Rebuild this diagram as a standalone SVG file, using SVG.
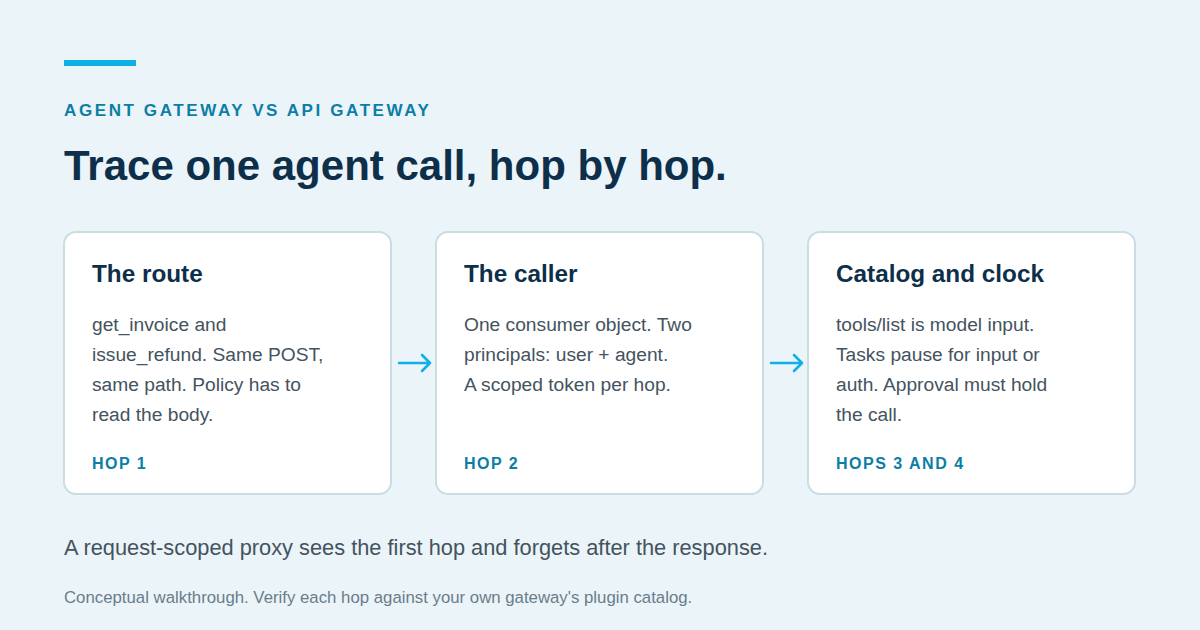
<svg xmlns="http://www.w3.org/2000/svg" width="1200" height="630" viewBox="0 0 1200 630">
<style>
text{font-family:"Liberation Sans",Arial,sans-serif}
.card{fill:#fff;stroke:#c9dde3;stroke-width:2}
.h{font-size:24.3px;font-weight:bold;fill:#0d2f4a}
.b{font-size:19.2px;fill:#44535e}
.hop{font-size:16px;font-weight:bold;fill:#0b7ea6;letter-spacing:1.5px}
.conn{stroke:#0fb0e6;stroke-width:2.5;fill:none;stroke-linecap:round;stroke-linejoin:round}
</style>
<rect width="1200" height="630" fill="#ebf4f9"/>
<rect x="64" y="60" width="72" height="6" fill="#0fb0e6"/>
<text x="64" y="116" font-size="17" font-weight="bold" fill="#0b7ea6" letter-spacing="2.6">AGENT GATEWAY VS API GATEWAY</text>
<text x="64" y="180" font-size="42" font-weight="bold" fill="#0d2f4a">Trace one agent call, hop by hop.</text>
<g id="n1"><rect class="card" x="64" y="232" width="327" height="262" rx="12"/>
<text class="h" x="92" y="282">The route</text>
<text class="b" x="92" y="331">get_invoice and</text><text class="b" x="92" y="361">issue_refund. Same POST,</text><text class="b" x="92" y="391">same path. Policy has to</text><text class="b" x="92" y="421">read the body.</text>
<text class="hop" x="92" y="469">HOP 1</text></g>
<g id="n2"><rect class="card" x="436" y="232" width="327" height="262" rx="12"/>
<text class="h" x="464" y="282">The caller</text>
<text class="b" x="464" y="331">One consumer object. Two</text><text class="b" x="464" y="361">principals: user + agent.</text><text class="b" x="464" y="391">A scoped token per hop.</text>
<text class="hop" x="464" y="469">HOP 2</text></g>
<g id="n3"><rect class="card" x="808" y="232" width="327" height="262" rx="12"/>
<text class="h" x="836" y="282">Catalog and clock</text>
<text class="b" x="836" y="331">tools/list is model input.</text><text class="b" x="836" y="361">Tasks pause for input or</text><text class="b" x="836" y="391">auth. Approval must hold</text><text class="b" x="836" y="421">the call.</text>
<text class="hop" x="836" y="469">HOPS 3 AND 4</text></g>
<g id="connectors">
<path class="conn" d="M399 363H430M422 355L430 363L422 371"/>
<path class="conn" d="M771 363H802M794 355L802 363L794 371"/>
</g>
<text x="64" y="555" font-size="21.8" fill="#44535e">A request-scoped proxy sees the first hop and forgets after the response.</text>
<text x="64" y="603" font-size="16.8" fill="#6a7d8a">Conceptual walkthrough. Verify each hop against your own gateway's plugin catalog.</text>
</svg>
